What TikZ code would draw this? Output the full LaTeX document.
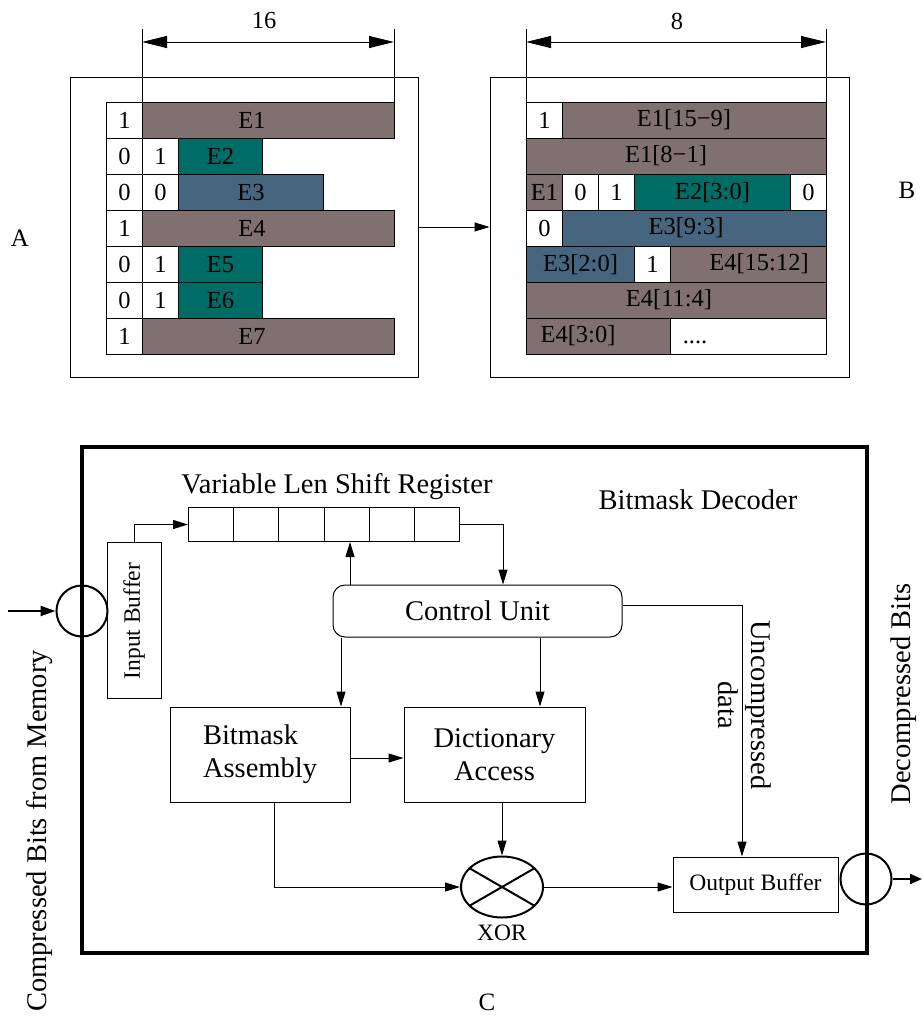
\documentclass[tikz,border=0pt]{standalone}
\usepackage{fontspec}
\setmainfont{Liberation Serif}
\usetikzlibrary{arrows.meta,shapes.geometric}
\definecolor{brn}{RGB}{128,112,112}
\definecolor{tea}{RGB}{0,108,102}
\definecolor{blu}{RGB}{70,102,128}
\newcommand\Cel[6]{\node[cellbox,fill=#5,minimum width=#4pt] (#1) at (#2,#3) {#6};}
\newcommand\Lab[3]{\node[celltext] (#1) at (#2) {#3};}
\begin{document}
\begin{tikzpicture}[x=1pt,y=-1pt,
  cellbox/.style={draw=black,line width=1pt,inner sep=0pt,minimum height=36pt,anchor=north west,font=\fontsize{24.5}{26}\selectfont},
  celltext/.style={inner sep=0pt,font=\fontsize{24.5}{26}\selectfont},
  panel/.style={draw=black,line width=1pt},
  dimarrow/.style={{Triangle[length=25pt,width=12pt]}-{Triangle[length=25pt,width=12pt]},line width=1pt},
  arr/.style={-{Triangle[length=15pt,width=9pt]},line width=1pt},
  plain/.style={line width=1pt},
  bigtxt/.style={font=\fontsize{28.5}{33}\selectfont},
  smalltxt/.style={font=\fontsize{23.5}{26}\selectfont},
  blk/.style={draw=black,line width=1pt,inner sep=0pt},
  port/.style={circle,draw=black,line width=2pt,minimum size=51pt,inner sep=0pt},
  lettr/.style={font=\fontsize{25}{27}\selectfont}
]
\useasboundingbox (0,0) rectangle (922,1017);

% ---------------- panel A ----------------
\node[panel,minimum width=348pt,minimum height=300pt,inner sep=0pt] (pa) at (244,227) {};
\coordinate (da1) at (142,29); \coordinate (da2) at (394,29);
\draw[plain] (da1) -- (142,102);
\draw[plain] (da2) -- (394,102);
\draw[dimarrow] (142,42) -- (394,42);
\node[celltext] (d16) at (264,21) {16};

\Cel{a11}{106}{102}{36}{white}{1}
\Cel{a12}{142}{102}{252}{brn}{}
\Lab{ta12}{252,120}{E1}
\Cel{a21}{106}{138}{36}{white}{0}
\Cel{a22}{142}{138}{36}{white}{1}
\Cel{a23}{178}{138}{84}{tea}{E2}
\Cel{a31}{106}{174}{36}{white}{0}
\Cel{a32}{142}{174}{36}{white}{0}
\Cel{a33}{178}{174}{145}{blu}{E3}
\Cel{a41}{106}{210}{36}{white}{1}
\Cel{a42}{142}{210}{252}{brn}{}
\Lab{ta42}{252,228}{E4}
\Cel{a51}{106}{246}{36}{white}{0}
\Cel{a52}{142}{246}{36}{white}{1}
\Cel{a53}{178}{246}{84}{tea}{E5}
\Cel{a61}{106}{282}{36}{white}{0}
\Cel{a62}{142}{282}{36}{white}{1}
\Cel{a63}{178}{282}{84}{tea}{E6}
\Cel{a71}{106}{318}{36}{white}{1}
\Cel{a72}{142}{318}{252}{brn}{}
\Lab{ta72}{252,336}{E7}

% ---------------- panel B ----------------
\node[panel,minimum width=359pt,minimum height=300pt,inner sep=0pt] (pb) at (669.5,227) {};
\draw[arr] (pa.east) -- (pb.west);
\coordinate (db1) at (526,29); \coordinate (db2) at (826,29);
\draw[plain] (db1) -- (526,102);
\draw[plain] (db2) -- (826,102);
\draw[dimarrow] (526,42) -- (826,42);
\node[celltext] (d8) at (677,21) {8};

\Cel{b11}{526}{102}{36}{white}{1}
\Cel{b12}{562}{102}{264}{brn}{}
\Lab{tb12}{684,120}{E1[15−9]}
\Cel{b21}{526}{138}{300}{brn}{}
\Lab{tb21}{666,156}{E1[8−1]}
\Cel{b31}{526}{174}{36}{brn}{E1}
\Cel{b32}{562}{174}{36}{white}{0}
\Cel{b33}{598}{174}{36}{white}{1}
\Cel{b34}{634}{174}{156}{tea}{E2[3:0]}
\Cel{b35}{790}{174}{36}{white}{0}
\Cel{b41}{526}{210}{36}{white}{0}
\Cel{b42}{562}{210}{264}{blu}{}
\Lab{tb42}{686,228}{E3[9:3]}
\Cel{b51}{526}{246}{108}{blu}{E3[2:0]}
\Cel{b52}{634}{246}{36}{white}{1}
\Cel{b53}{670}{246}{156}{brn}{}
\Lab{tb53}{759,264}{E4[15:12]}
\Cel{b61}{526}{282}{300}{brn}{}
\Lab{tb61}{669,300}{E4[11:4]}
\Cel{b71}{526}{318}{144}{brn}{}
\Lab{tb71}{578,336}{E4[3:0]}
\Cel{b72}{670}{318}{156}{white}{}
\node[celltext,anchor=base] (tb72) at (695,343) {....};

\node[lettr] (la) at (20,238) {A};
\node[lettr] (lb) at (907,190) {B};
\node[lettr] (lc) at (487,1002) {C};

% ---------------- panel C ----------------
\node[draw=black,line width=4.5pt,minimum width=785pt,minimum height=506pt,inner sep=0pt] (frame) at (474.5,700) {};
\node[bigtxt] (srt) at (337,487) {Variable Len Shift Register};
\node[bigtxt] (bdt) at (698,500) {Bitmask Decoder};

\foreach \i/\x in {1/188,2/233.2,3/278.3,4/323.5,5/368.7,6/413.8}{
  \node[blk,minimum width=45.2pt,minimum height=34pt,anchor=north west] (sr\i) at (\x,507) {};
}
\node[blk,minimum width=54pt,minimum height=156pt] (inb) at (134,620) {};
\node[smalltxt,rotate=90] (inbt) at (134,621) {Input Buffer};
\node[blk,rounded corners=12pt,minimum width=289pt,minimum height=52pt,bigtxt] (cu) at (477.5,611) {Control Unit};
\node[blk,minimum width=180pt,minimum height=95pt,bigtxt,align=left] (bma) at (260,754.5) {Bitmask\\Assembly};
\node[blk,minimum width=181pt,minimum height=95pt,bigtxt,align=center] (dic) at (494.5,754.5) {Dictionary\\Access};
\node[ellipse,draw=black,line width=2pt,minimum width=82pt,minimum height=61pt,inner sep=0pt] (xor) at (502,887) {};
\draw[line width=2pt] (xor.150) -- (xor.-30);
\draw[line width=2pt] (xor.210) -- (xor.30);
\node[smalltxt] (xort) at (502,933) {XOR};
\node[blk,minimum width=165pt,minimum height=55pt,smalltxt] (ob) at (755.5,884.5) {Output Buffer};

\node[port] (lp) at (82,611) {};
\node[port] (rp) at (866,879) {};
\coordinate (inpt) at (8,611);
\coordinate (outpt) at (922,879);
\draw[-{Triangle[length=15pt,width=10pt]},line width=2pt] (inpt) -- (lp.west);
\draw[-{Triangle[length=12pt,width=10pt]},line width=2pt] (rp.east) -- (outpt);

\node[bigtxt,rotate=90] (cbt) at (40,831) {Compressed Bits from Memory};
\node[bigtxt,rotate=90] (dbt) at (904,694) {Decompressed Bits};
\node[bigtxt,rotate=-90,align=center] (unt) at (745,705) {Uncompressed\\data};

% connectors
\draw[arr] (inb.north) |- (sr1.west);
\draw[arr] (sr6.east) -| ([xshift=25.5pt]cu.north);
\draw[arr] ([xshift=-127.5pt]cu.north) -- ([xshift=-127.5pt]cu.north |- sr4.south);
\draw[arr] ([xshift=-136.5pt]cu.south) -- ([xshift=-136.5pt]cu.south |- bma.north);
\draw[arr] ([xshift=62.5pt]cu.south) -- ([xshift=62.5pt]cu.south |- dic.north);
\draw[arr] ([yshift=6pt]cu.east) -| ([xshift=-13.5pt]ob.north);
\draw[arr] ([yshift=-3.5pt]bma.east) -- ([yshift=-3.5pt]dic.west);
\draw[arr] ([xshift=14pt]bma.south) |- (xor.west);
\draw[arr] (xor.north |- dic.south) -- (xor.north);
\draw[arr] (xor.east) -- (xor.east -| ob.west);
\end{tikzpicture}
\end{document}
